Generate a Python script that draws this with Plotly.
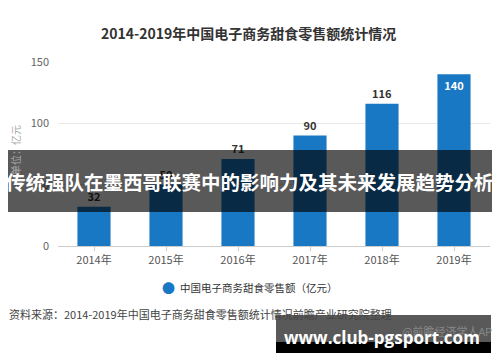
import plotly.graph_objects as go

years = ["2014年", "2015年", "2016年", "2017年", "2018年", "2019年"]
sales = [32, 50, 71, 90, 116, 140]
label_pos = ["outside", "outside", "outside", "outside", "outside", "inside"]

title_text = "2014-2019年中国电子商务甜食零售额统计情况"
legend_text = "中国电子商务甜食零售额（亿元）"
yaxis_text = "单位：亿元"
source_text = "资料来源：2014-2019年中国电子商务甜食零售额统计情况前瞻产业研究院整理"
credit_text = "@前瞻经济学人APP"
banner_text = "传统强队在墨西哥联赛中的影响力及其未来发展趋势分析"
site_text = "www.club-pgsport.com"

CJK = "Noto Sans CJK SC, Open Sans, sans-serif"
BLUE = "#1878c4"

# the page body has an 8px margin; work in window pixels and offset
OFF = 8
WIN_W, WIN_H = 500, 362
W, H = WIN_W - OFF, WIN_H - OFF
PL, PR, PT, PB = 58, 490, 62, 246   # plot area in window pixels
L, R, T, B = PL - OFF, WIN_W - PR, PT - OFF, WIN_H - PB
PW, PH = PR - PL, PB - PT


def px(x):
    return (x - PL) / PW


def py(y):
    return (PB - y) / PH


fig = go.Figure()
fig.add_trace(go.Bar(
    x=years, y=sales, marker_color=BLUE, marker_line_width=0,
    text=[str(v) for v in sales], textposition=label_pos,
    insidetextanchor="end",
    textfont=dict(family=CJK, size=11, color="#333333", weight="bold"),
    insidetextfont=dict(family=CJK, size=11, color="#ffffff", weight="bold"),
    outsidetextfont=dict(family=CJK, size=11, color="#333333", weight="bold"),
    cliponaxis=False, showlegend=False,
))

fig.update_layout(
    width=W, height=H,
    margin=dict(l=L, r=R, t=T, b=B, pad=0),
    paper_bgcolor="white", plot_bgcolor="white",
    bargap=0.54,
    font=dict(family=CJK, size=11, color="#555555"),
    xaxis=dict(showline=True, linecolor="#cccccc", linewidth=1,
               ticks="outside", ticklen=4, tickcolor="#cccccc",
               tickfont=dict(size=11, color="#555555"), showgrid=False),
    yaxis=dict(range=[0, 150], tickvals=[0, 50, 100, 150], showgrid=True,
               gridcolor="#e8e8e8", zeroline=False, showline=False,
               ticks="", ticklabelstandoff=8,
               tickfont=dict(size=11, color="#666666")),
    showlegend=False,
)

annos = [
    dict(text=f"<b>{title_text}</b>", x=px(248), y=py(33),
         font=dict(size=14, color="#333333")),
    dict(text=yaxis_text, x=px(15), y=py(150), textangle=-90,
         font=dict(size=10, color="#aaaaaa")),
    dict(text="●", x=px(168), y=py(287), font=dict(size=13, color=BLUE)),
    dict(text=legend_text, x=px(178), y=py(287), xanchor="left",
         font=dict(size=10.5, color="#333333")),
    dict(text=source_text, x=px(7), y=py(314), xanchor="left",
         font=dict(size=11, color="#444444")),
    dict(text=credit_text, x=px(400), y=py(331), xanchor="left",
         font=dict(size=11, color="#888888")),
]

shapes = [
    dict(type="rect", xref="paper", yref="paper", x0=px(0), x1=px(500),
         y0=py(212), y1=py(150), fillcolor="rgba(0,0,0,0.65)",
         line_width=0, layer="above"),
    dict(type="rect", xref="paper", yref="paper", x0=px(276), x1=px(491),
         y0=py(342), y1=py(315), fillcolor="rgba(0,0,0,0.65)",
         line_width=0, layer="above"),
    dict(type="rect", xref="paper", yref="paper", x0=px(276), x1=px(491),
         y0=py(353), y1=py(342), fillcolor="#000000",
         line_width=0, layer="above"),
]

annos += [
    dict(text=f"<b>{banner_text}</b>", x=px(250), y=py(181),
         font=dict(size=19.5, color="white")),
    dict(text=f"<b>{site_text}</b>", x=px(382), y=py(337),
         font=dict(family="Open Sans, sans-serif", size=17, color="white")),
]

for a in annos:
    a.setdefault("xref", "paper")
    a.setdefault("yref", "paper")
    a.setdefault("showarrow", False)
    a.setdefault("xanchor", "center")
    a.setdefault("yanchor", "middle")
    fig.add_annotation(**a)

for s in shapes:
    fig.add_shape(**s)

fig.write_html("out.html")
